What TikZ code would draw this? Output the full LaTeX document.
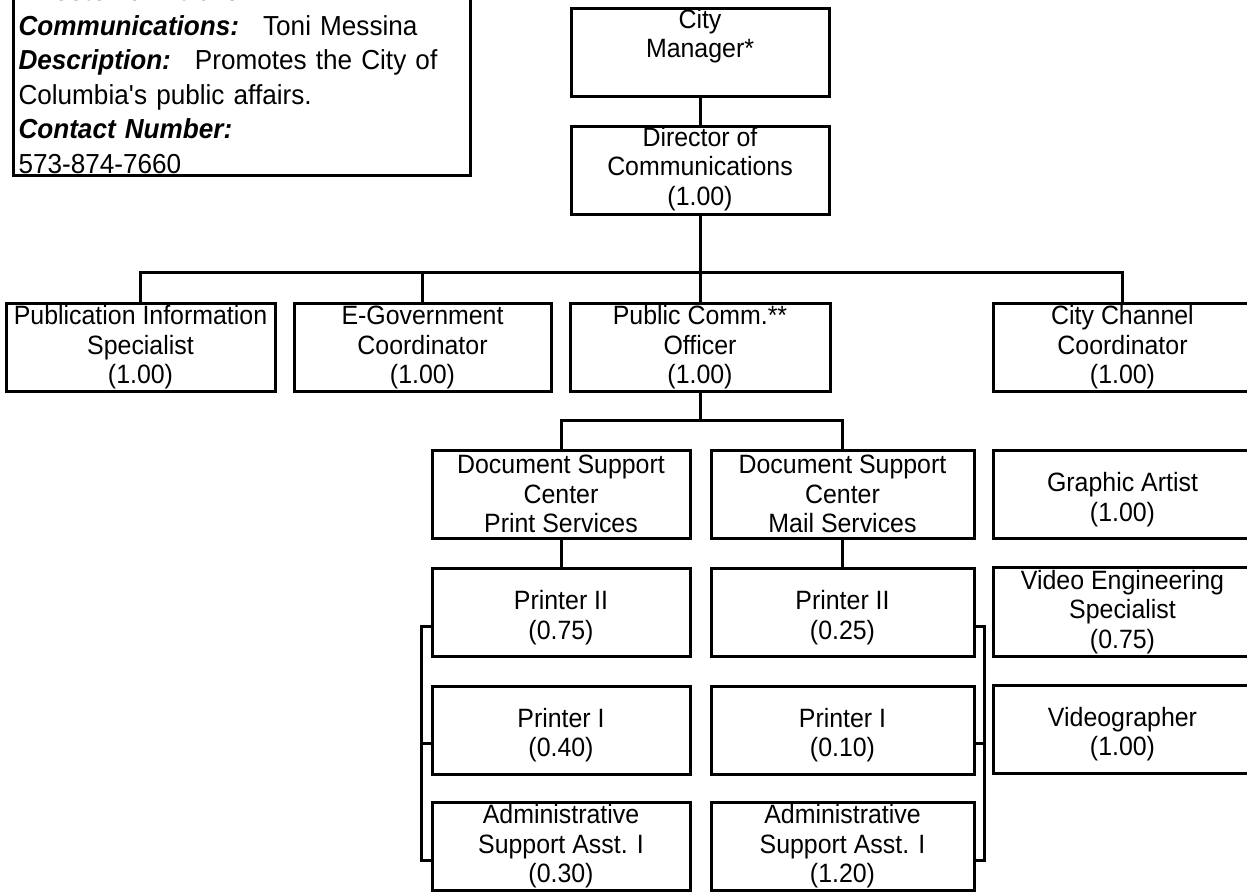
\documentclass[tikz,border=0pt]{standalone}
\usepackage{fontspec}
\setmainfont{Liberation Sans}
\newfontfamily\unitfont[FakeStretch=0.94]{Liberation Sans}
\newfontfamily\notefont[FakeStretch=0.95]{Liberation Sans}

\begin{document}
\begin{tikzpicture}[x=0.5pt,y=-0.5pt,line width=1.5pt]
	\tikzstyle{every node}=[inner sep=0pt]
	\tikzstyle{unit}=[draw, rectangle, minimum width=129pt, minimum height=44pt, align=center, font=\fontsize{13.25}{14.75}\unitfont]
	\tikzstyle{high}=[unit, execute at begin node=\strut, execute at end node=\strut]
	\tikzstyle{low}=[unit, execute at begin node={\vrule height 14.2pt depth 0pt width 0pt}, execute at end node={\vrule height 0pt depth 0.5pt width 0pt}]
	\useasboundingbox (0,0) rectangle (1247,892);
	% note box
	\draw (12,177) node (info) [draw, anchor=south west, inner xsep=2.5pt, inner ysep=1pt, text width=223.5pt, align=left, font=\fontsize{13.75}{17.25}\notefont] {\textbf{\textit{Director of Public}}\\
		\textbf{\textit{Communications:}}\hspace{12pt}Toni Messina\\
		\textbf{\textit{Description:}}\hspace{12pt}Promotes the City of\\
		Columbia\textquotesingle s public affairs.\\
		\textbf{\textit{Contact Number:}}\\
		573-874-7660};
	% top
	\draw (700,52.5) node (cm) [high] {City\\Manager*\\};
	\draw (700,170.5) node (dc) [high] {Director of\\Communications\\(1.00)};
	% second row
	\draw (140.5,347.5) node (pi) [low, minimum width=134.5pt] {Publication Information\\Specialist\\(1.00)};
	\draw (422.5,347.5) node (eg) [low, minimum width=128.5pt] {E-Government\\Coordinator\\(1.00)};
	\draw (700,347.5) node (pc) [low, minimum width=130pt] {Public Comm.**\\Officer\\(1.00)};
	\draw (1122.5,347.5) node (cc) [low] {City Channel\\Coordinator\\(1.00)};
	% third row
	\draw (561,494.5) node (dp) [low] {Document Support\\Center\\Print Services};
	\draw (842.5,494.5) node (dm) [low, minimum width=131.5pt] {Document Support\\Center\\Mail Services};
	\draw (1122.5,494.5) node (ga) [low] {\\Graphic Artist\\(1.00)};
	% staff
	\draw (561,612.5) node (p2a) [low] {\\Printer II\\(0.75)};
	\draw (842.5,612.5) node (p2b) [low, minimum width=131.5pt] {\\Printer II\\(0.25)};
	\draw (1122.5,612) node (ve) [low] {Video Engineering\\Specialist\\(0.75)};
	\draw (561,730) node (p1a) [low] {\\Printer I\\(0.40)};
	\draw (842.5,730) node (p1b) [low, minimum width=131.5pt] {\\Printer I\\(0.10)};
	\draw (1122.5,729) node (vg) [low] {\\Videographer\\(1.00)};
	\draw (561,846.5) node (asa) [low] {Administrative\\Support Asst. I\\(0.30)};
	\draw (842.5,846.5) node (asb) [low, minimum width=131.5pt] {Administrative\\Support Asst. I\\(1.20)};
	% lines
	\coordinate (bar1) at (700,273);
	\coordinate (bar2) at (700,421);
	\draw (cm) -- (dc);
	\draw (dc) -- (pc);
	\draw (pi.north) |- (bar1) -| (cc.north);
	\draw (eg.north) -- (eg.north |- bar1);
	\draw (pc) -- (bar2);
	\draw (dp.north) |- (bar2) -| (dm.north);
	\draw (dp) -- (p2a);
	\draw (dm) -- (p2b);
	\draw ([yshift=-6.75pt]p2a.west) -- ++(-9,0) |- ([yshift=-6.75pt]asa.west);
	\draw ([yshift=-6.75pt]p1a.west) -- ++(-9,0);
	\draw ([yshift=-6.75pt]p2b.east) -- ++(9,0) |- ([yshift=-6.75pt]asb.east);
	\draw ([yshift=-6.75pt]p1b.east) -- ++(9,0);
\end{tikzpicture}
\end{document}
